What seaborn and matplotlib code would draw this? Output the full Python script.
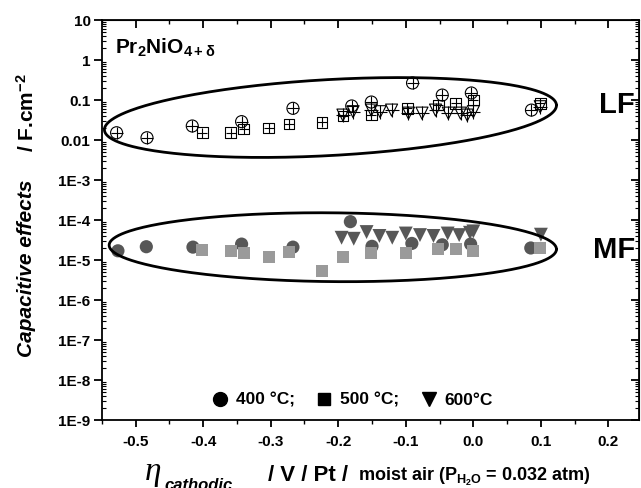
import numpy as np
import matplotlib
matplotlib.use("Agg")
import matplotlib.pyplot as plt
import seaborn as sns
from matplotlib.lines import Line2D
from matplotlib.ticker import LogLocator, NullFormatter

# ---- data ----
# low frequency (LF) contribution, open symbols
lf400_x = [-0.528, -0.483, -0.416, -0.343, -0.267, -0.180, -0.151, -0.090, -0.046, -0.003, 0.086]
lf400_y = [0.0152, 0.0114, 0.0224, 0.0288, 0.062, 0.071, 0.089, 0.266, 0.133, 0.150, 0.056]
lf500_x = [-0.401, -0.359, -0.340, -0.303, -0.273, -0.224, -0.193, -0.151, -0.098, -0.052, -0.026, 0.000, 0.099]
lf500_y = [0.0152, 0.0152, 0.0188, 0.020, 0.025, 0.028, 0.040, 0.042, 0.062, 0.075, 0.083, 0.100, 0.083]
lf600_x = [-0.193, -0.178, -0.151, -0.138, -0.121, -0.096, -0.076, -0.056, -0.037, -0.019, -0.009, 0.000, 0.099]
lf600_y = [0.042, 0.051, 0.056, 0.051, 0.056, 0.047, 0.047, 0.056, 0.047, 0.047, 0.042, 0.051, 0.068]

# middle frequency (MF) contribution, filled symbols
mf400_x = [-0.526, -0.484, -0.415, -0.343, -0.267, -0.182, -0.150, -0.091, -0.046, -0.004, 0.085]
mf400_y = [1.7e-5, 2.15e-5, 2.1e-5, 2.5e-5, 2.1e-5, 9.1e-5, 2.2e-5, 2.6e-5, 2.4e-5, 2.5e-5, 2.0e-5]
mf500_x = [-0.401, -0.359, -0.340, -0.303, -0.273, -0.224, -0.193, -0.151, -0.099, -0.052, -0.026, 0.000, 0.099]
mf500_y = [1.78e-5, 1.7e-5, 1.47e-5, 1.2e-5, 1.56e-5, 5.3e-6, 1.2e-5, 1.47e-5, 1.47e-5, 1.85e-5, 1.9e-5, 1.7e-5, 1.95e-5]
mf600_x = [-0.195, -0.177, -0.158, -0.139, -0.120, -0.100, -0.079, -0.059, -0.038, -0.021, -0.005, 0.000, 0.100]
mf600_y = [3.6e-5, 3.4e-5, 5.0e-5, 4.0e-5, 3.6e-5, 4.6e-5, 4.2e-5, 4.0e-5, 4.6e-5, 4.2e-5, 4.8e-5, 5.2e-5, 4.3e-5]

xticks = [-0.5, -0.4, -0.3, -0.2, -0.1, 0.0, 0.1, 0.2]
xtick_labels = ["-0.5", "-0.4", "-0.3", "-0.2", "-0.1", "0.0", "0.1", "0.2"]
yticks = [10, 1, 0.1, 0.01, 1e-3, 1e-4, 1e-5, 1e-6, 1e-7, 1e-8, 1e-9]
ytick_labels = ["10", "1", "0.1", "0.01", "1E-3", "1E-4", "1E-5", "1E-6", "1E-7", "1E-8", "1E-9"]
legend_labels = ["400 \u00b0C;", "500 \u00b0C;", "600\u00b0C"]

# ellipses drawn around the two groups: centre and two semi-axis vectors in (x, log10 y)
lf_ell = dict(c=(-0.2115, -1.4375), a=(0.3345, 0.3125), b=(-0.0031, 0.948))
mf_ell = dict(c=(-0.208, -4.68), a=(0.331, -0.05), b=(0.0, 0.86))

# ---- style ----
sns.set_style("ticks")
plt.rcParams["font.family"] = ["Liberation Sans", "DejaVu Sans"]
plt.rcParams["font.weight"] = "bold"
plt.rcParams["text.color"] = "black"
plt.rcParams["axes.edgecolor"] = "black"
plt.rcParams["xtick.color"] = "black"
plt.rcParams["ytick.color"] = "black"
plt.rcParams["mathtext.fontset"] = "custom"
plt.rcParams["mathtext.rm"] = "Liberation Sans:bold"
plt.rcParams["mathtext.it"] = "Liberation Sans:bold:italic"
plt.rcParams["mathtext.bf"] = "Liberation Sans:bold"
plt.rcParams["mathtext.default"] = "rm"

fig = plt.figure(figsize=(6.41, 4.88), dpi=100)
ax = fig.add_axes([0.1587, 0.1393, 0.838, 0.8197])

dark = "#575757"
light = "#9a9a9a"

# LF: open symbols with a cross inside
sns.scatterplot(x=lf400_x, y=lf400_y, marker="o", s=75, facecolor="none", edgecolor="black", linewidth=0.8, ax=ax)
sns.scatterplot(x=lf400_x, y=lf400_y, marker="+", s=75, color="black", linewidth=0.8, ax=ax)
sns.scatterplot(x=lf500_x, y=lf500_y, marker="s", s=60, facecolor="none", edgecolor="black", linewidth=0.8, ax=ax)
sns.scatterplot(x=lf500_x, y=lf500_y, marker="+", s=60, color="black", linewidth=0.8, ax=ax)
sns.scatterplot(x=lf600_x, y=lf600_y, marker="v", s=75, facecolor="none", edgecolor="black", linewidth=0.8, ax=ax)
sns.scatterplot(x=lf600_x, y=lf600_y, marker="+", s=90, color="black", linewidth=0.8, ax=ax)

# MF: filled grey symbols
sns.scatterplot(x=mf400_x, y=mf400_y, marker="o", s=90, color=dark, edgecolor="none", ax=ax)
sns.scatterplot(x=mf500_x, y=mf500_y, marker="s", s=75, color=light, edgecolor="none", ax=ax)
sns.scatterplot(x=mf600_x, y=mf600_y, marker="v", s=100, color=dark, edgecolor="none", ax=ax)

# ellipses
t = np.linspace(0, 2 * np.pi, 400)
for e in (lf_ell, mf_ell):
    ex = e["c"][0] + e["a"][0] * np.cos(t) + e["b"][0] * np.sin(t)
    ey = e["c"][1] + e["a"][1] * np.cos(t) + e["b"][1] * np.sin(t)
    ax.plot(ex, 10 ** ey, color="black", lw=2.0)

# axes
ax.set_yscale("log")
ax.set_xlim(-0.55, 0.245)
ax.set_ylim(1e-9, 10)
ax.set_xticks(xticks, xtick_labels)
ax.set_xticks(np.arange(-0.55, 0.25, 0.05), minor=True)
ax.set_yticks(yticks, ytick_labels)
ax.yaxis.set_minor_locator(LogLocator(base=10, subs=np.arange(2, 10), numticks=20))
ax.yaxis.set_minor_formatter(NullFormatter())
ax.tick_params(axis="both", which="major", labelsize=11, width=1.3)
ax.tick_params(axis="x", which="major", direction="out", length=5, pad=6)
ax.tick_params(axis="x", which="minor", direction="out", length=3, width=1.0)
ax.tick_params(axis="y", which="major", direction="out", length=6, pad=2)
ax.tick_params(axis="y", which="minor", direction="in", length=3, width=0.8)
for lab in ax.get_xticklabels() + ax.get_yticklabels():
    lab.set_fontweight("bold")
for sp in ax.spines.values():
    sp.set_linewidth(1.3)
    sp.set_visible(True)
ax.set_xlabel("")
ax.set_ylabel("")

top = ax.secondary_xaxis("top")
top.set_xticks(xticks)
top.set_xticks(np.arange(-0.55, 0.25, 0.05), minor=True)
top.xaxis.set_major_formatter(NullFormatter())
top.tick_params(which="major", direction="in", length=6, width=1.3)
top.tick_params(which="minor", direction="in", length=3, width=1.0)

right = ax.secondary_yaxis("right")
right.set_yticks(yticks)
right.yaxis.set_minor_locator(LogLocator(base=10, subs=np.arange(2, 10), numticks=20))
right.yaxis.set_major_formatter(NullFormatter())
right.yaxis.set_minor_formatter(NullFormatter())
right.tick_params(which="major", direction="in", length=6, width=1.3)
right.tick_params(which="minor", direction="in", length=3, width=0.8)

# annotations
ax.text(0.025, 0.93, r"Pr$_2$NiO$_{4+\delta}$", transform=ax.transAxes, fontsize=15,
        fontweight="bold", va="center", ha="left")
ax.text(0.993, 0.7875, "LF", transform=ax.transAxes, fontsize=21, fontweight="bold", va="center", ha="right")
ax.text(0.993, 0.425, "MF", transform=ax.transAxes, fontsize=21, fontweight="bold", va="center", ha="right")

handles = [Line2D([], [], marker=m, color="black", linestyle="none", markersize=ms)
           for m, ms in (("o", 10), ("s", 8.5), ("v", 10))]
ax.legend(handles, legend_labels, loc="lower center", bbox_to_anchor=(0.461, 0.0), ncol=3,
          frameon=False, handletextpad=0.1, columnspacing=0.9, borderaxespad=0.3,
          handlelength=1.6, prop={"size": 12.5, "weight": "bold"})

# y label pieces
fig.text(0.0415, 0.451, "Capacitive effects", rotation=90, fontsize=15, fontweight="bold",
         fontstyle="italic", ha="center", va="center")
fig.text(0.0415, 0.769, r"/ F.cm$^{-2}$", rotation=90, fontsize=15, fontweight="bold",
         ha="center", va="center")

# x label pieces
fig.text(0.226, 0.016, "\u03b7", family=["Liberation Serif", "DejaVu Serif"], fontstyle="italic",
         fontweight="normal", fontsize=24, ha="left", va="baseline")
fig.text(0.256, -0.004, "cathodic", fontsize=12, fontweight="bold", fontstyle="italic",
         ha="left", va="baseline")
fig.text(0.418, 0.0143, "/ V / Pt /", fontsize=16, fontweight="bold", ha="left", va="baseline")
fig.text(0.558, 0.0143, r"moist air (P$_{H_2O}$ = 0.032 atm)", fontsize=13, fontweight="bold",
         ha="left", va="baseline")

fig.savefig("out.png", dpi=100)
